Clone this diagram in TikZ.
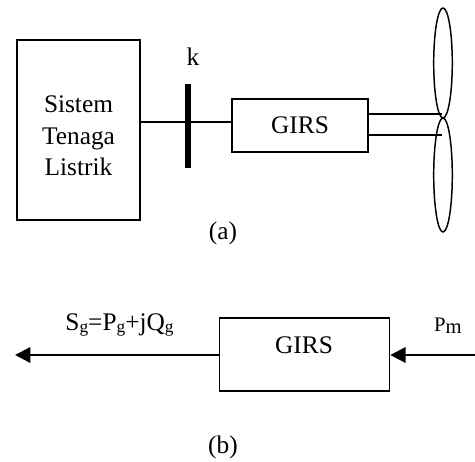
\documentclass[tikz,border=0pt]{standalone}
\usepackage{fontspec}
\setmainfont{Liberation Serif}
\usetikzlibrary{arrows.meta}
\tikzset{
  px/.style={x=0.75pt,y=-0.75pt},
  line/.style={draw=black,line width=1.1pt},
  blockbox/.style={draw=black,line width=1.1pt,minimum width=0pt,inner sep=0pt,fill=none},
  lbl/.style={inner sep=0pt,font=\fontsize{19}{23.5}\selectfont,align=center},
  small lbl/.style={inner sep=0pt,font=\fontsize{15.5}{18}\selectfont},
  flow/.style={draw=black,line width=1.7pt,-{Triangle[length=11.5pt,width=11.5pt]}},
}
\newcommand{\sbs}[1]{\raisebox{-0.2ex}{\fontsize{13}{15}\selectfont #1}}
\begin{document}
\begin{tikzpicture}[px]
\useasboundingbox (0,0) rectangle (475,461);
\node[blockbox,minimum width=92.2pt,minimum height=135pt] (sys) at (78.5,130) {};
\node[lbl] (systxt) at (78.5,136) {Sistem\\Tenaga\\Listrik};
\node[blockbox,minimum width=102pt,minimum height=39.7pt] (g1) at (300,125.5) {};
\node[lbl] at (g1.center) {GIRS};
\coordinate (bt) at (188,84);
\coordinate (bb) at (188,168);
\draw[draw=black,line width=3.8pt] (bt) -- (bb);
\node[lbl] (k) at (193,57) {k};
\draw[line] (sys.east |- 0,122) -- (g1.west |- 0,122);
\coordinate (s1) at (442,113.8);
\coordinate (s2) at (442,135);
\draw[line] (g1.east |- s1) -- (s1);
\draw[line] (g1.east |- s2) -- (s2);
\draw[line] (443,63) ellipse [x radius=9.3,y radius=55];
\draw[line] (443,175) ellipse [x radius=9.3,y radius=57];
\node[lbl] (a) at (223,233) {(a)};
\node[blockbox,minimum width=127.5pt,minimum height=54.7pt] (g2) at (304.5,354.5) {};
\node[lbl] at (304,345) {GIRS};
\coordinate (tipl) at (15,355);
\coordinate (tail) at (475,355);
\draw[flow] (g2.west |- tipl) -- (tipl);
\draw[flow] (tail) -- (g2.east |- tail);
\node[lbl] (sg) at (119.5,325) {S\sbs{g}=P\sbs{g}+jQ\sbs{g}};
\node[small lbl] (pm) at (448,326) {P\raisebox{-0.2ex}{m}};
\node[lbl] (b) at (223,447) {(b)};
\end{tikzpicture}
\end{document}
